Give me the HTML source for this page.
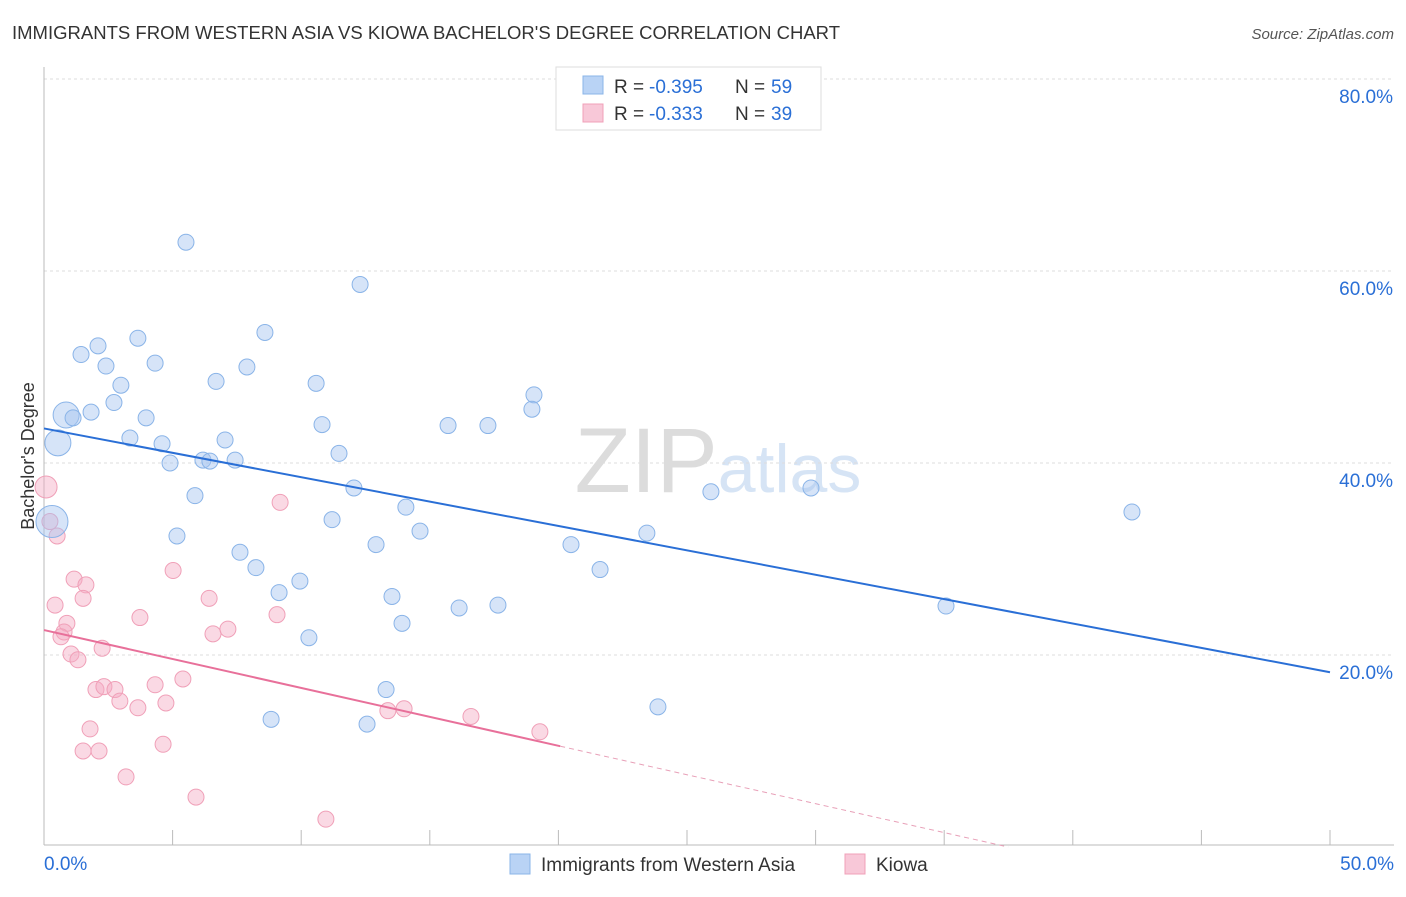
<!DOCTYPE html>
<html><head><meta charset="utf-8"><style>
body{margin:0;background:#fff;font-family:"Liberation Sans",sans-serif;}
svg text{font-family:"Liberation Sans",sans-serif;}
</style></head><body>
<svg id="chart" width="1406" height="892" viewBox="0 0 1406 892" xmlns="http://www.w3.org/2000/svg">
<text x="12" y="39" font-size="18" textLength="828" lengthAdjust="spacingAndGlyphs" fill="#333">IMMIGRANTS FROM WESTERN ASIA VS KIOWA BACHELOR'S DEGREE CORRELATION CHART</text>
<text x="1394" y="39" font-size="15" fill="#555" font-style="italic" text-anchor="end">Source: ZipAtlas.com</text>
<text x="718" y="492" font-size="92" fill="#e4e4e4" text-anchor="middle" font-family="Liberation Serif"><tspan fill="#dcdcdc">ZIP</tspan><tspan fill="#d6e4f5" font-family="Liberation Sans" font-size="68">atlas</tspan></text>
<g id="grid"></g>
<g id="axes"></g>
<g id="marks"></g>
<text transform="translate(34,456) rotate(-90)" font-size="18" fill="#333" text-anchor="middle">Bachelor's Degree</text>
<g>
<rect x="556" y="67" width="265" height="63" fill="#fff" stroke="#ddd"/>
<rect x="583" y="76" width="20" height="18" fill="#b9d3f5" stroke="#8ab4e8"/>
<text x="614" y="93" font-size="19" fill="#333">R = </text>
<text x="649" y="93" font-size="19" fill="#2a6fd6">-0.395</text>
<text x="735" y="93" font-size="19" fill="#333">N = </text>
<text x="771" y="93" font-size="19" fill="#2a6fd6">59</text>
<rect x="583" y="104" width="20" height="18" fill="#f8c8d8" stroke="#f0a0b8"/>
<text x="614" y="120" font-size="19" fill="#333">R = </text>
<text x="649" y="120" font-size="19" fill="#2a6fd6">-0.333</text>
<text x="735" y="120" font-size="19" fill="#333">N = </text>
<text x="771" y="120" font-size="19" fill="#2a6fd6">39</text>
</g>
<g>
<rect x="510" y="854" width="20" height="20" fill="#b9d3f5" stroke="#8ab4e8"/>
<text x="541" y="871" font-size="19" fill="#333">Immigrants from Western Asia</text>
<rect x="845" y="854" width="20" height="20" fill="#f8c8d8" stroke="#f0a0b8"/>
<text x="876" y="871" font-size="19" fill="#333">Kiowa</text>
</g>
</svg>
<script>
const blueX=[5.52,12.29,8.59,3.65,2.10,1.44,4.32,2.41,7.89,2.99,6.69,10.58,19.05,2.72,18.97,0.86,1.83,1.13,3.97,10.81,15.71,17.26,0.54,3.34,4.59,7.04,11.47,6.18,6.45,7.43,4.90,12.05,25.93,29.82,5.87,14.07,42.30,11.20,0.31,14.62,5.17,23.44,12.91,20.49,7.62,8.24,21.62,9.95,9.14,13.53,17.65,16.14,35.07,13.92,10.30,13.30,23.87,8.83,12.56];
const blueY=[63.0,58.6,53.6,53.0,52.2,51.3,50.4,50.1,50.0,48.1,48.5,48.3,47.1,46.3,45.6,45.0,45.3,44.7,44.7,44.0,43.9,43.9,42.1,42.6,42.0,42.4,41.0,40.3,40.2,40.3,40.0,37.4,37.0,37.4,36.6,35.4,34.9,34.1,33.9,32.9,32.4,32.7,31.5,31.5,30.7,29.1,28.9,27.7,26.5,26.1,25.2,24.9,25.1,23.3,21.8,16.4,14.6,13.3,12.8];
const blueBig=[15,22,38];
const pinkX=[0.08,0.23,0.51,0.43,1.17,1.63,1.52,9.18,5.02,6.42,3.73,9.06,0.89,0.78,0.66,6.57,7.15,2.26,1.05,1.32,5.40,4.32,2.02,2.33,2.76,2.95,4.74,3.65,13.37,14.00,16.60,19.28,1.79,4.63,1.52,2.14,3.19,5.91,10.96];
const pinkY=[37.5,33.9,32.4,25.2,27.9,27.3,25.9,35.9,28.8,25.9,23.9,24.2,23.3,22.4,21.9,22.2,22.7,20.7,20.1,19.5,17.5,16.9,16.4,16.7,16.4,15.2,15.0,14.5,14.2,14.4,13.6,12.0,12.3,10.7,10.0,10.0,7.3,5.2,2.9];
const blueTrend=[43.6,18.2];
const pinkTrend=[22.6,10.5];
const pinkTrendEndX=20.07;
const yTicks=[20,40,60,80];
const xTickLabels=["0.0%","50.0%"];
const NS="http://www.w3.org/2000/svg";
const X=v=>44+v/50*1286, Y=v=>847-v/20*192;
function mk(tag,attrs,parent){const e=document.createElementNS(NS,tag);for(const k in attrs)e.setAttribute(k,attrs[k]);parent.appendChild(e);return e;}
const grid=document.getElementById('grid'),axes=document.getElementById('axes'),marks=document.getElementById('marks');
yTicks.forEach(t=>{
 const l=mk('line',{x1:44,x2:1394,y1:Y(t),y2:Y(t),stroke:'#ddd','stroke-dasharray':'3,3'},grid);
 
 
 const tx=mk('text',{x:1393,y:Y(t)+24,'font-size':19,fill:'#2a6fd6','text-anchor':'end'},axes);
 tx.textContent=t.toFixed(1)+'%';
 
 
});
const ax=mk('line',{x1:44,x2:44,y1:67,y2:845,stroke:'#bbb'},axes);


const bx=mk('line',{x1:44,x2:1394,y1:845,y2:845,stroke:'#bbb'},axes);


for(let i=0;i<=10;i++){const t=mk('line',{x1:X(i*5),x2:X(i*5),y1:830,y2:845,stroke:'#bbb'},axes);
 
 }
const xl0=mk('text',{x:44,y:870,'font-size':19,fill:'#2a6fd6'},axes);xl0.textContent=xTickLabels[0];


const xl1=mk('text',{x:1394,y:870,'font-size':19,fill:'#2a6fd6','text-anchor':'end'},axes);xl1.textContent=xTickLabels[1];


pinkX.forEach((v,i)=>{const c=mk('circle',{cx:X(v),cy:Y(pinkY[i]),r:i===0?11:8,fill:'rgba(245,170,195,0.45)',stroke:'#f0a0b8','stroke-width':1},marks);
 
 });
blueX.forEach((v,i)=>{const c=mk('circle',{cx:X(v),cy:Y(blueY[i]),r:blueBig.includes(i)?(i===38?16:13):8,fill:'rgba(164,196,240,0.45)',stroke:'#8ab4e8','stroke-width':1},marks);
 
 });
const bl=mk('line',{x1:X(0),y1:Y(blueTrend[0]),x2:X(50),y2:Y(blueTrend[1]),stroke:'#2a6fd6','stroke-width':2},marks);


const slope=(pinkTrend[1]-pinkTrend[0])/pinkTrendEndX;
const pl=mk('line',{x1:X(0),y1:Y(pinkTrend[0]),x2:X(pinkTrendEndX),y2:Y(pinkTrend[1]),stroke:'#e8709a','stroke-width':2},marks);


const xe=-pinkTrend[0]/slope;
const pd=mk('line',{x1:X(pinkTrendEndX),y1:Y(pinkTrend[1]),x2:X(xe),y2:Y(0),stroke:'#e8a0b8','stroke-width':1,'stroke-dasharray':'5,4'},marks);


</script>
</body></html>
